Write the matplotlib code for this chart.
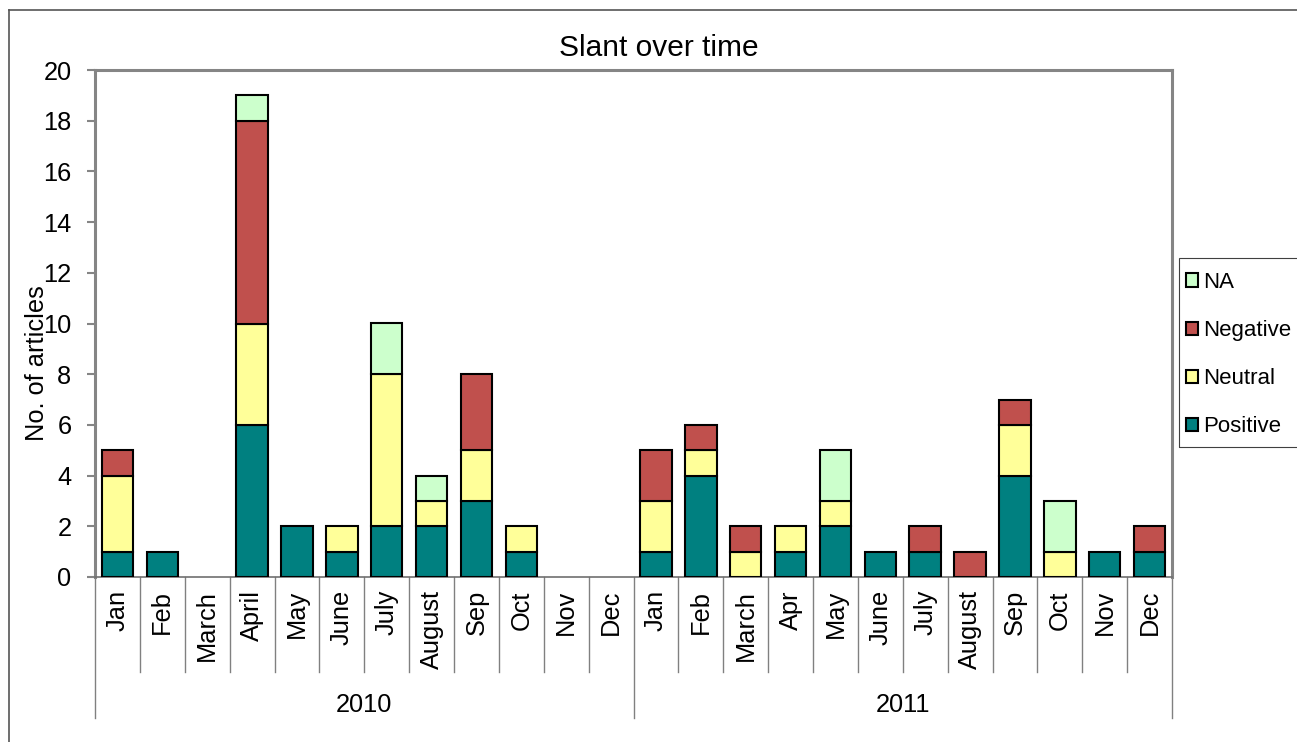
import matplotlib.pyplot as plt
import numpy as np
from matplotlib.patches import Patch, Rectangle
from matplotlib.lines import Line2D

plt.rcParams["font.family"] = ["Liberation Sans", "DejaVu Sans"]

years = ["2010", "2011"]
months_2010 = ["Jan", "Feb", "March", "April", "May", "June", "July", "August",
               "Sep", "Oct", "Nov", "Dec"]
months_2011 = ["Jan", "Feb", "March", "Apr", "May", "June", "July", "August",
               "Sep", "Oct", "Nov", "Dec"]
months = months_2010 + months_2011

positive = [1, 1, 0, 6, 2, 1, 2, 2, 3, 1, 0, 0,
            1, 4, 0, 1, 2, 1, 1, 0, 4, 0, 1, 1]
neutral = [3, 0, 0, 4, 0, 1, 6, 1, 2, 1, 0, 0,
           2, 1, 1, 1, 1, 0, 0, 0, 2, 1, 0, 0]
negative = [1, 0, 0, 8, 0, 0, 0, 0, 3, 0, 0, 0,
            2, 1, 1, 0, 0, 0, 1, 1, 1, 0, 0, 1]
na = [0, 0, 0, 1, 0, 0, 2, 1, 0, 0, 0, 0,
      0, 0, 0, 0, 2, 0, 0, 0, 0, 2, 0, 0]

series = [("Positive", positive, "#008080"),
          ("Neutral", neutral, "#FFFF99"),
          ("Negative", negative, "#C0504D"),
          ("NA", na, "#CCFFCC")]

FS = 18.3
W, H = 1297, 742
fig = plt.figure(figsize=(W / 100, H / 100), dpi=100)
ax = fig.add_axes([95 / W, 1 - 577 / H, (1172 - 95) / W, (577 - 70) / H])

x = np.arange(len(months))
bottom = np.zeros(len(months))
for name, vals, color in series:
    vals = np.array(vals, dtype=float)
    mask = vals > 0
    ax.bar(x[mask], vals[mask], 0.7, bottom=bottom[mask], color=color,
           edgecolor="black", linewidth=1.5, zorder=3)
    bottom += vals

ax.set_xlim(-0.5, len(months) - 0.5)
ax.set_ylim(0, 20)
ax.set_yticks(range(0, 21, 2))
ax.tick_params(axis="y", direction="out", length=6, width=1.5, color="#858585",
               labelsize=FS, pad=11)
ax.set_xticks([])
for s in ["top", "right", "left"]:
    ax.spines[s].set_color("#858585")
    ax.spines[s].set_linewidth(2.2)
ax.spines["bottom"].set_color("#707070")
ax.spines["bottom"].set_linewidth(1.2)

# category axis: month labels, dividers, year labels
axh = 577 - 70
tr = ax.get_xaxis_transform()
for i, m in enumerate(months):
    ax.text(i, -13 / axh, m, rotation=90, ha="center", va="top",
            fontsize=FS, transform=tr)
for i in range(len(months) + 1):
    low = -141 / axh if i % 12 == 0 else -95 / axh
    ax.add_line(Line2D([i - 0.5, i - 0.5], [0, low], transform=tr,
                       color="#808080", linewidth=1, clip_on=False))
for k, yr in enumerate(years):
    ax.text(k * 12 + 5.5, -128 / axh, yr, ha="center", va="center",
            fontsize=FS, transform=tr)

fig.text(659 / W, 1 - 48 / H, "Slant over time", ha="center", va="center",
         fontsize=21.5)
fig.text(37 / W, 1 - 363 / H, "No. of articles", rotation=90, ha="center",
         va="center", fontsize=FS)

# legend (frame drawn separately, it runs off the right edge)
handles = [Patch(facecolor=c, edgecolor="black", linewidth=1.5, label=n)
           for n, _, c in series[::-1]]
fig.legend(handles=handles, loc="upper left",
           bbox_to_anchor=(1186 / W, 1 - 272 / H), fontsize=16,
           frameon=False, borderpad=0, labelspacing=1.22, handlelength=0.55,
           handleheight=0.55, handletextpad=0.2, borderaxespad=0)
fig.add_artist(Rectangle((1179 / W, 1 - 447 / H), 0.2, (447 - 258) / H,
                         transform=fig.transFigure, facecolor="none",
                         edgecolor="#404040", linewidth=0.8))

# outer chart border
fig.add_artist(Line2D([9 / W, 9 / W], [0, 1 - 10 / H], transform=fig.transFigure,
                      color="#555555", linewidth=1.2))
fig.add_artist(Line2D([9 / W, 1], [1 - 10 / H, 1 - 10 / H],
                      transform=fig.transFigure, color="#555555", linewidth=1.2))

fig.savefig("out.png", dpi=100)
